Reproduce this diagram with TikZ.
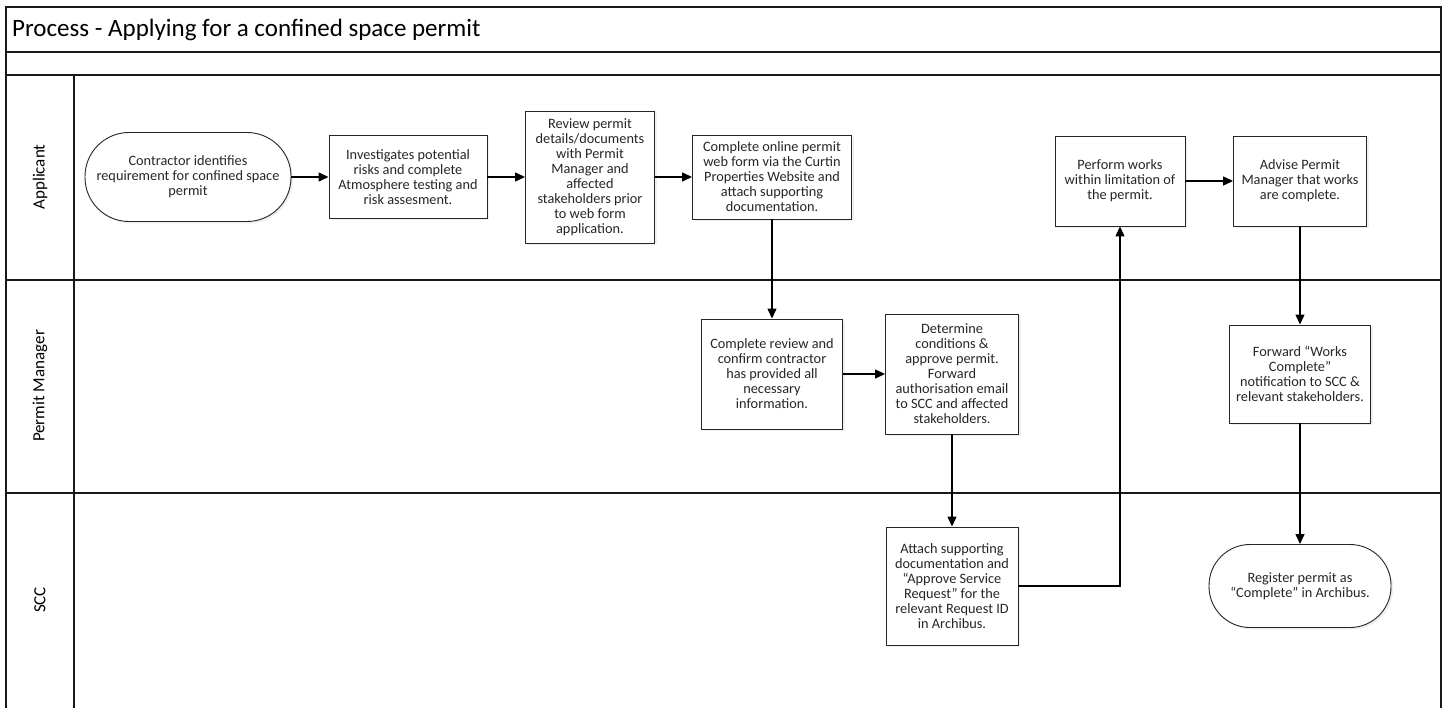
\documentclass[tikz,border=0pt]{standalone}
\usepackage{fontspec}
\setmainfont{Carlito}
\usetikzlibrary{arrows.meta,shadows}
\begin{document}
\begin{tikzpicture}[x=1pt,y=-1pt,
  frameline/.style={line width=1.2pt,draw=black!90},
  boxshadow/.style={drop shadow={shadow xshift=2pt,shadow yshift=-2pt,opacity=0.25,fill=blue!30!gray!40}},
  procbox/.style={draw=black!85,line width=0.9pt,fill=white,inner sep=0pt,align=center,
     font=\fontsize{14.3}{15}\selectfont,text=black!85,boxshadow},
  termbox/.style={procbox},
  arr/.style={line width=1.3pt,-{Triangle[length=10pt,width=9pt]}},
  lanelabel/.style={rotate=90,font=\fontsize{17}{20}\selectfont,inner sep=0pt}
]
\useasboundingbox (0,0) rectangle (1446,708);
\fill[white] (0,0) rectangle (1446,708);
% frame
\draw[frameline] (6,708) -- (6,7) -- (1441,7) -- (1441,708);
\draw[frameline] (6,52) -- (1441,52);
\draw[frameline] (6,75) -- (1441,75);
\draw[frameline] (6,280) -- (1441,280);
\draw[frameline] (6,493) -- (1441,493);
\draw[frameline] (74,75) -- (74,708);
\node[anchor=west,font=\fontsize{25}{29}\selectfont,inner sep=0pt] (title) at (12,30) {Process - Applying for a confined space permit};
\node[lanelabel] (l1) at (40,177) {Applicant};
\node[lanelabel] (l2) at (40,386) {Permit Manager};
\node[lanelabel] (l3) at (40,600) {SCC};
% nodes
\node[termbox,rounded corners=44pt,minimum width=206pt,minimum height=89pt] (start) at (188,177)
  {Contractor identifies\\requirement for confined space\\permit};
\node[procbox,minimum width=158pt,minimum height=83pt] (inv) at (408,177)
  {Investigates potential\\risks and complete\\Atmosphere testing and\\risk assesment.};
\node[procbox,minimum width=129pt,minimum height=132pt] (rev) at (590,177)
  {Review permit\\details/documents\\with Permit\\Manager and\\affected\\stakeholders prior\\to web form\\application.};
\node[procbox,minimum width=159pt,minimum height=84pt] (onl) at (772,177)
  {Complete online permit\\web form via the Curtin\\Properties Website and\\attach supporting\\documentation.};
\node[procbox,minimum width=130pt,minimum height=90pt] (perf) at (1120,181)
  {Perform works\\within limitation of\\the permit.};
\node[procbox,minimum width=133pt,minimum height=90pt] (adv) at (1300,181)
  {Advise Permit\\Manager that works\\are complete.};
\node[procbox,minimum width=141pt,minimum height=110pt] (crev) at (772,374)
  {Complete review and\\confirm contractor\\has provided all\\necessary\\information.};
\node[procbox,minimum width=133pt,minimum height=120pt] (det) at (952,374)
  {Determine\\conditions \&\\approve permit.\\Forward\\authorisation email\\to SCC and affected\\stakeholders.};
\node[procbox,minimum width=141pt,minimum height=98pt] (fwd) at (1300,374)
  {Forward “Works\\Complete”\\notification to SCC \&\\relevant stakeholders.};
\node[procbox,minimum width=132pt,minimum height=118pt] (att) at (952,586)
  {Attach supporting\\documentation and\\“Approve Service\\Request” for the\\relevant Request ID\\in Archibus.};
\node[termbox,rounded corners=41pt,minimum width=182pt,minimum height=83pt] (reg) at (1300,586)
  {Register permit as\\“Complete” in Archibus.};
% connectors
\draw[arr] (start) -- (inv);
\draw[arr] (inv) -- (rev);
\draw[arr] (rev) -- (onl);
\draw[arr] (onl) -- (crev);
\draw[arr] (crev) -- (det);
\draw[arr] (det) -- (att);
\draw[arr] (att.east) -| (perf.south);
\draw[arr] (perf) -- (adv);
\draw[arr] (adv) -- (fwd);
\draw[arr] (fwd) -- (reg);
\end{tikzpicture}
\end{document}
